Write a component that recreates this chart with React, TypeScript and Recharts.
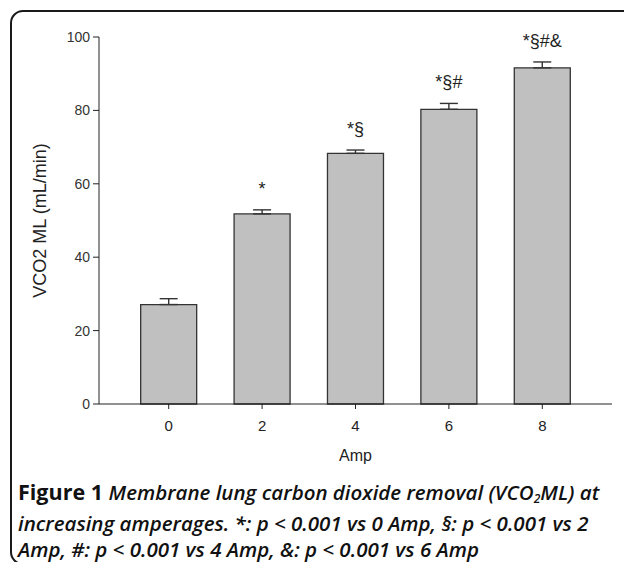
import { Bar, BarChart, ErrorBar, LabelList, XAxis, YAxis } from "recharts";

const amps = ["0", "2", "4", "6", "8"];
const vco2 = [27.1, 51.8, 68.3, 80.3, 91.6];
const sem = [1.6, 1.1, 0.9, 1.6, 1.6];
const marks = ["", "*", "*§", "*§#", "*§#&"];
const yTicks = [0, 20, 40, 60, 80, 100];

const rows = amps.map((amp, i) => ({
  amp,
  vco2: vco2[i],
  err: [0, sem[i]],
  mark: marks[i],
}));

const arial = "'Liberation Sans', Arial, sans-serif";

function MarkLabel(props: any) {
  const { x, y, width, height, index } = props;
  const text = marks[index];
  if (!text) return null;
  const pxPerUnit = height / vco2[index];
  const capY = y - sem[index] * pxPerUnit;
  return (
    <text x={x + width / 2} y={capY - 15} textAnchor="middle" fontFamily={arial} fontSize={18} fill="#222">
      {text}
    </text>
  );
}

export default function App() {
  return (
    <div style={{ position: "fixed", left: 0, top: 0, width: 624, height: 562, overflow: "hidden", background: "#fff" }}>
      <div
        style={{
          position: "absolute",
          left: 10,
          top: 10,
          width: 700,
          height: 551,
          border: "2px solid #1a1a1a",
          borderRadius: 13,
        }}
      />
      <div style={{ position: "absolute", left: 0, top: 0 }}>
        <BarChart
          width={624}
          height={470}
          data={rows}
          margin={{ top: 37, right: 12, bottom: 0, left: 0 }}
          barCategoryGap="20%"
        >
          <XAxis
            dataKey="amp"
            height={66}
            padding={{ left: 23, right: 23 }}
            stroke="#222"
            tick={{ fontFamily: arial, fontSize: 15, fill: "#222" }}
            tickSize={5}
            tickMargin={11}
            label={{ value: "Amp", position: "insideBottom", offset: 9, fontFamily: arial, fontSize: 16, fill: "#222" }}
          />
          <YAxis
            width={99}
            domain={[0, 100]}
            ticks={yTicks}
            stroke="#222"
            tick={{ fontFamily: arial, fontSize: 14, fill: "#333" }}
            tickSize={6}
            tickMargin={3}
            label={{
              value: "VCO2 ML (mL/min)",
              angle: -90,
              position: "insideLeft",
              offset: 40,
              style: { textAnchor: "middle" },
              fontFamily: arial,
              fontSize: 18,
              fill: "#222",
            }}
          />
          <Bar dataKey="vco2" fill="#c0c0c0" stroke="#333" strokeWidth={1.3} isAnimationActive={false}>
            <ErrorBar dataKey="err" width={9} stroke="#333" strokeWidth={1.4} direction="y" />
            <LabelList dataKey="mark" content={MarkLabel} />
          </Bar>
        </BarChart>
      </div>
      <div
        style={{
          position: "absolute",
          left: 18,
          top: 479,
          fontFamily: "'Open Sans', sans-serif",
          fontSize: 20.5,
          lineHeight: "26.5px",
          color: "#111",
          fontWeight: 600,
          fontStyle: "italic",
          whiteSpace: "nowrap",
        }}
      >
        <span style={{ fontStyle: "normal", fontWeight: 700, fontSize: 21.5 }}>Figure 1 </span>
        Membrane lung carbon dioxide removal (VCO
        <span style={{ fontSize: 12, position: "relative", top: 3 }}>2</span>ML) at
        <br />
        increasing amperages. *: p &lt; 0.001 vs 0 Amp, §: p &lt; 0.001 vs 2
        <br />
        Amp, #: p &lt; 0.001 vs 4 Amp, &amp;: p &lt; 0.001 vs 6 Amp
      </div>
    </div>
  );
}
